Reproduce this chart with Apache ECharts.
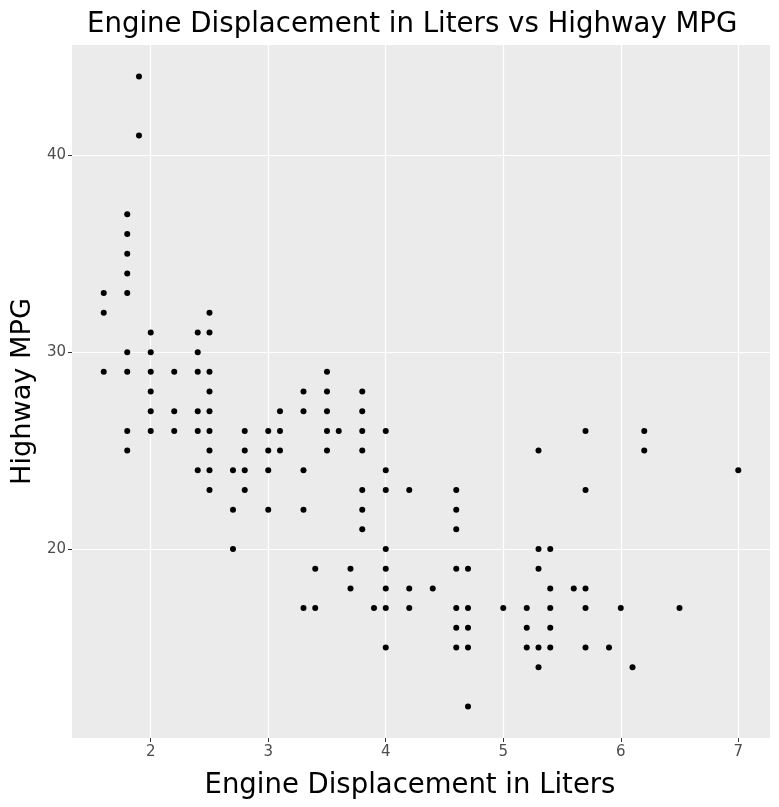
<!DOCTYPE html>
<html>
<head>
<meta charset="utf-8">
<script src="https://cdn.jsdelivr.net/npm/echarts@6/dist/echarts.min.js"></script>
<style>html,body{margin:0;padding:0;background:#fff}#c{width:779px;height:807px}</style>
</head>
<body>
<div id="c"></div>
<script>
const titleText = 'Engine Displacement in Liters vs Highway MPG';
const xName = 'Engine Displacement in Liters';
const yName = 'Highway MPG';
const xTicks = [2, 3, 4, 5, 6, 7];
const yTicks = [20, 30, 40];

const displ = [
  1.6,1.6,1.6,
  1.8,1.8,1.8,1.8,1.8,1.8,1.8,1.8,1.8,
  1.9,1.9,
  2.0,2.0,2.0,2.0,2.0,2.0,
  2.2,2.2,2.2,
  2.4,2.4,2.4,2.4,2.4,2.4,
  2.5,2.5,2.5,2.5,2.5,2.5,2.5,2.5,2.5,
  2.7,2.7,2.7,
  2.8,2.8,2.8,2.8,
  3.0,3.0,3.0,3.0,
  3.1,3.1,3.1,
  3.3,3.3,3.3,3.3,3.3,
  3.4,3.4,
  3.5,3.5,3.5,3.5,3.5,
  3.6,
  3.7,3.7,
  3.8,3.8,3.8,3.8,3.8,3.8,3.8,
  3.9,
  4.0,4.0,4.0,4.0,4.0,4.0,4.0,4.0,
  4.2,4.2,4.2,
  4.4,
  4.6,4.6,4.6,4.6,4.6,4.6,4.6,
  4.7,4.7,4.7,4.7,4.7,
  5.0,
  5.2,5.2,5.2,
  5.3,5.3,5.3,5.3,5.3,
  5.4,5.4,5.4,5.4,5.4,
  5.6,
  5.7,5.7,5.7,5.7,5.7,
  5.9,
  6.0,
  6.1,
  6.2,6.2,
  6.5,
  7.0
];
const hwy = [
  33,32,29,
  37,36,35,34,33,30,29,26,25,
  44,41,
  31,30,29,28,27,26,
  29,27,26,
  31,30,29,27,26,24,
  32,31,29,28,27,26,25,24,23,
  24,22,20,
  26,25,24,23,
  26,25,24,22,
  27,26,25,
  28,27,24,22,17,
  19,17,
  29,28,27,26,25,
  26,
  19,18,
  28,27,26,25,23,22,21,
  17,
  26,24,23,20,19,18,17,15,
  23,18,17,
  18,
  23,22,21,19,17,16,15,
  19,17,16,15,12,
  17,
  17,16,15,
  25,20,19,15,14,
  20,18,17,16,15,
  18,
  26,23,18,17,15,
  15,
  17,
  14,
  26,25,
  17,
  24
];

const points = displ.map((d, i) => [d, hwy[i]]);
const font = 'DejaVu Sans';

const chart = echarts.init(document.getElementById('c'), null, {renderer: 'canvas'});
chart.setOption({
  backgroundColor: '#ffffff',
  animation: false,
  title: {
    text: titleText,
    left: 82,
    top: 6,
    textStyle: {fontFamily: font, fontSize: 27.6, fontWeight: 'normal', color: '#000'}
  },
  grid: {
    left: 72, right: 9, top: 45, bottom: 69,
    show: true, backgroundColor: '#ebebeb', borderWidth: 0
  },
  xAxis: {
    type: 'value',
    min: 1.33, max: 7.27,
    name: xName,
    nameLocation: 'middle',
    nameGap: 34,
    nameTextStyle: {fontFamily: font, fontSize: 27.5, color: '#000', padding: [0, 22, 0, 0]},
    axisLine: {show: false},
    axisTick: {show: true, length: 4, customValues: xTicks, lineStyle: {color: '#333', width: 1}},
    axisLabel: {customValues: xTicks, fontFamily: font, fontSize: 15, color: '#4d4d4d', margin: 7},
    splitLine: {show: true, lineStyle: {color: '#ffffff', width: 1.2}}
  },
  yAxis: {
    type: 'value',
    min: 10.4, max: 45.6,
    name: yName,
    nameLocation: 'middle',
    nameGap: 31,
    nameTextStyle: {fontFamily: font, fontSize: 27.2, color: '#000'},
    axisLine: {show: false},
    axisTick: {show: true, length: 4, customValues: yTicks, lineStyle: {color: '#333', width: 1}},
    axisLabel: {customValues: yTicks, fontFamily: font, fontSize: 15, color: '#4d4d4d', margin: 6},
    splitLine: {show: true, lineStyle: {color: '#ffffff', width: 1.2}}
  },
  series: [{
    type: 'scatter',
    data: points,
    symbol: 'circle',
    symbolSize: 6,
    itemStyle: {color: '#000', opacity: 1},
    silent: true
  }]
});
</script>
</body>
</html>
